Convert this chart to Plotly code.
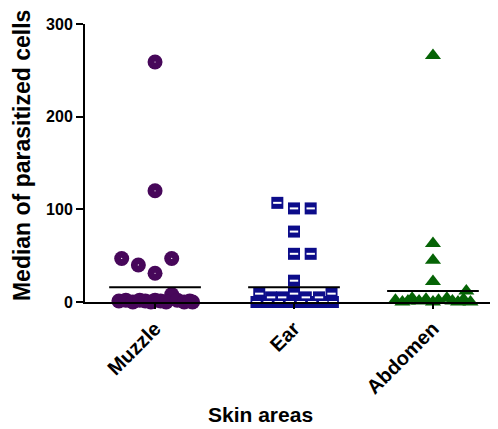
import plotly.graph_objects as go

categories = ["Muzzle", "Ear", "Abdomen"]

muzzle_vals = [259, 120, 47, 40, 31, 47, 8, 1, 2, 0, 2, 1, 0, 2, 1, 0, 2, 0, 1, 0]
muzzle_offs = [0, 0, -0.24, -0.12, 0, 0.12, 0.12, -0.26, -0.21, -0.16, -0.11, -0.07, -0.03, 0.0, 0.04, 0.08, 0.16, 0.21, 0.25, 0.27]

ear_vals = [107, 101, 101, 76, 52, 52, 23, 9, 9, 9, 5, 5, 5, 5, 0, 0, 0, 0, 0, 0, 0, 0]
ear_offs = [-0.12, 0, 0.12, 0, 0, 0.12, 0, -0.25, 0.0, 0.27, -0.165, -0.085, 0.085, 0.18,
            -0.27, -0.19, -0.11, -0.03, 0.05, 0.13, 0.21, 0.28]

abd_vals = [266, 63, 45, 22, 12, 2, 0, 4, 1, 3, 0, 2, 4, 1, 0, 3, 0, 1]
abd_offs = [0, 0, 0, 0, 0.24, -0.27, -0.22, -0.15, -0.1, -0.05, 0.0, 0.04, 0.1, 0.14, 0.18, 0.22, 0.27, -0.18]

medians = [16, 16, 12]
median_halfwidth = 0.33

colors = ["#47075a", "#0c0c8a", "#056305"]
FONT = "Liberation Sans, Arial, sans-serif"

fig = go.Figure()

def xs(idx, offs):
    return [idx + o for o in offs]

# Muzzle
fig.add_trace(go.Scatter(x=xs(0, muzzle_offs), y=muzzle_vals, mode="markers",
                         marker=dict(symbol="circle", size=15, color=colors[0], line=dict(width=0)),
                         cliponaxis=False, showlegend=False))
fig.add_trace(go.Scatter(x=xs(0, muzzle_offs[:6]), y=muzzle_vals[:6], mode="markers",
                         marker=dict(symbol="circle", size=1.2, color="white", line=dict(width=0)),
                         cliponaxis=False, showlegend=False))
# Ear
fig.add_trace(go.Scatter(x=xs(1, ear_offs), y=ear_vals, mode="markers",
                         marker=dict(symbol="square", size=12, color=colors[1], line=dict(width=0)),
                         cliponaxis=False, showlegend=False))
fig.add_trace(go.Scatter(x=xs(1, ear_offs), y=ear_vals, mode="markers",
                         marker=dict(symbol="line-ew", size=6, color="white", line=dict(width=2, color="white")),
                         cliponaxis=False, showlegend=False))
# Abdomen
fig.add_trace(go.Scatter(x=xs(2, abd_offs), y=abd_vals, mode="markers",
                         marker=dict(symbol="triangle-up", size=14, color=colors[2], line=dict(width=0)),
                         cliponaxis=False, showlegend=False))

# median lines
for i, m in enumerate(medians):
    fig.add_trace(go.Scatter(x=[i - median_halfwidth, i + median_halfwidth], y=[m, m], mode="lines",
                             line=dict(color="black", width=2), cliponaxis=False, showlegend=False))

fig.update_layout(
    width=490, height=421,
    margin=dict(l=77, r=0, t=16, b=127),
    plot_bgcolor="white", paper_bgcolor="white",
    font=dict(family=FONT, color="black"),
    xaxis=dict(range=[-0.504, 2.468], tickvals=[0, 1, 2], ticktext=categories,
               tickangle=-45, showline=True, linecolor="black", linewidth=2,
               ticks="outside", ticklen=5, tickwidth=2, tickcolor="black",
               showgrid=False, zeroline=False,
               tickfont=dict(family=FONT, size=20, weight="bold", color="black")),
    yaxis=dict(range=[0, 300], tickvals=[0, 100, 200, 300], showline=True, linecolor="black", linewidth=2,
               ticks="outside", ticklen=7, tickwidth=2, tickcolor="black",
               showgrid=False, zeroline=False,
               tickfont=dict(family=FONT, size=16, weight="bold", color="black")),
    annotations=[
        dict(text="Skin areas", x=(260 - 85) / 413, y=-0.406, xref="paper", yref="paper",
             xanchor="center", yanchor="middle", showarrow=False,
             font=dict(family=FONT, size=21, weight="bold", color="black")),
        dict(text="Median of parasitized cells", x=-0.1525, y=0.525, xref="paper", yref="paper",
             xanchor="center", yanchor="middle", textangle=-90, showarrow=False,
             font=dict(family=FONT, size=23, weight="bold", color="black")),
    ],
)

fig.write_html("out.html")
